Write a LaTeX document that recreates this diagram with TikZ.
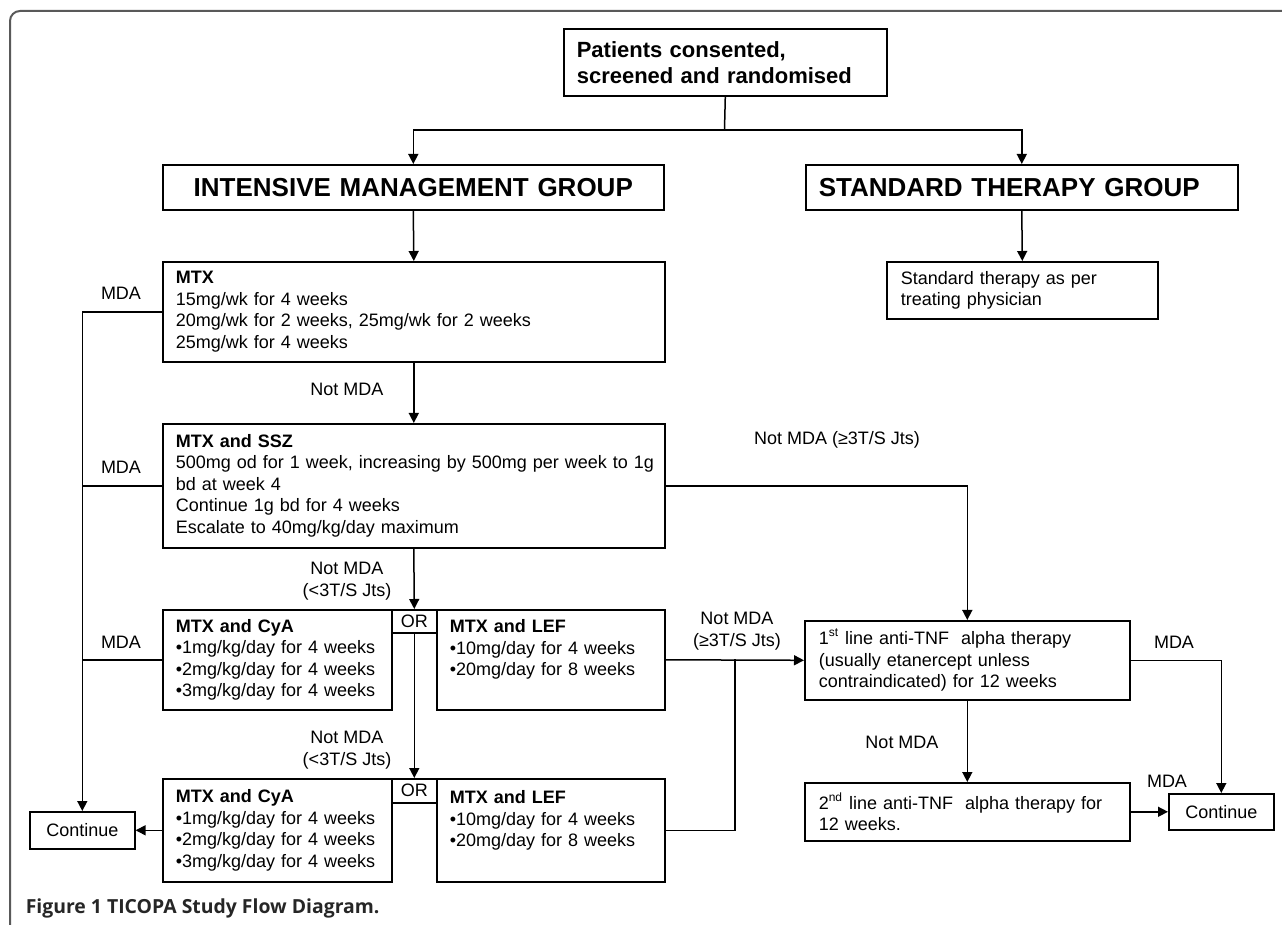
\documentclass[tikz,border=0pt]{standalone}
\usepackage{fontspec}
\setmainfont{Liberation Sans}
\newfontfamily\capfont{Open Sans}
\usetikzlibrary{arrows.meta}

\begin{document}
\begin{tikzpicture}[x=0.5pt, y=-0.5pt, line width=0.75pt,
  box/.style={draw, line width=0.8pt, anchor=north west, align=left, inner xsep=6.5pt, inner ysep=0pt, font=\fontsize{9}{10.75}\selectfont},
  orbox/.style={draw, line width=0.8pt, anchor=north west, minimum width=22.5pt, minimum height=11.5pt, inner sep=0pt, font=\fontsize{9}{10.75}\selectfont},
  endbox/.style={draw, line width=0.8pt, anchor=north west, minimum width=52.5pt, minimum height=18.5pt, inner sep=0pt, font=\fontsize{9}{10.75}\selectfont},
  lbl/.style={align=center, inner sep=0pt, font=\fontsize{9}{10.75}\selectfont},
  arr/.style={-{Triangle[length=5pt,width=5pt]}}]

  \useasboundingbox (0,0) rectangle (1282,925);

  % Draw the frame round the figure
  \draw[black!65, line width=1pt, rounded corners=5pt] (1300,11) -- (10,11) -- (10,934) -- (40,934);

  % Top box and the split into the two arms
  \node[box, font=\fontsize{11}{13}\selectfont\bfseries, text width=148.5pt, minimum height=33.5pt] (start) at (563,28) {Patients consented,\\screened and randomised};
  \coordinate (split) at (724.5,130);

  \node[box, align=center, font=\fontsize{13}{15}\selectfont\bfseries, text width=237.5pt, minimum height=22.5pt] (img) at (162,164) {INTENSIVE MANAGEMENT GROUP};
  \node[box, font=\fontsize{13}{15}\selectfont\bfseries, text width=203pt, minimum height=22.5pt] (stg) at (805,164) {STANDARD THERAPY GROUP};
  \node[box, inner xsep=7pt, text width=121.5pt, minimum height=28.5pt] (std) at (886,261) {Standard therapy as per\\treating physician};

  % Intensive arm, one step after the other
  \node[box, text width=238pt, minimum height=50pt] (mtx) at (162,261) {\textbf{MTX}\\15mg/wk for 4 weeks\\20mg/wk for 2 weeks, 25mg/wk for 2 weeks\\25mg/wk for 4 weeks};
  \node[box, text width=238pt, minimum height=62pt] (ssz) at (162,423) {\textbf{MTX and SSZ}\\\mbox{500mg od for 1 week, increasing by 500mg per week to 1g}\\bd at week 4\\Continue 1g bd for 4 weeks\\Escalate to 40mg/kg/day maximum};

  \node[box, text width=101.5pt, minimum height=50pt] (cya1) at (162,609) {\textbf{MTX and CyA}\\•1mg/kg/day for 4 weeks\\•2mg/kg/day for 4 weeks\\•3mg/kg/day for 4 weeks};
  \node[orbox] (or1) at (391,609) {OR};
  \node[box, text width=101pt, text height=11.5pt, text depth=38.5pt] (lef1) at (436,609) {\textbf{MTX and LEF}\\•10mg/day for 4 weeks\\•20mg/day for 8 weeks};

  \node[box, text width=101.5pt, minimum height=51.5pt] (cya2) at (162,778) {\textbf{MTX and CyA}\\•1mg/kg/day for 4 weeks\\•2mg/kg/day for 4 weeks\\•3mg/kg/day for 4 weeks};
  \node[orbox, minimum height=12pt] (or2) at (391,778) {OR};
  \node[box, text width=101pt, text height=12.5pt, text depth=39pt] (lef2) at (436,778) {\textbf{MTX and LEF}\\•10mg/day for 4 weeks\\•20mg/day for 8 weeks};

  \node[endbox] (contL) at (29,811) {Continue};

  % Anti-TNF steps
  \node[box, inner xsep=7pt, text width=148.5pt, minimum height=39.5pt] (tnf1) at (804,620) {1\textsuperscript{st} line anti-TNF\ \ alpha therapy\\(usually etanercept unless\\contraindicated) for 12 weeks};
  \node[box, inner xsep=7pt, text width=148.5pt, minimum height=29pt] (tnf2) at (804,782) {2\textsuperscript{nd} line anti-TNF\ \ alpha therapy for\\12 weeks.};
  \node[endbox, minimum height=18pt] (contR) at (1168,793) {Continue};
  \coordinate (jn) at (735,659.5);

  % Connectors
  \draw (start.south) -- (split);
  \draw[arr] (split) -| (img.north);
  \draw[arr] (split) -| (stg.north);
  \draw[arr] (img.south) -- (mtx.north);
  \draw[arr] (stg.south) -- (std.north);
  \draw[arr] (mtx.south) -- (ssz.north);
  \draw[arr] (ssz.south) -- (or1.north);
  \draw[arr] (or1.south) -- (or2.north);
  \draw[arr] (mtx.west) -| (contL.north);
  \draw (ssz.west) -- (ssz.west -| contL.north);
  \draw (cya1.west) -- (cya1.west -| contL.north);
  \draw[arr] (cya2.west) -- (contL.east);
  \draw[arr] (ssz.east) -| (tnf1.north);
  \draw[arr] (lef1.east) -- (tnf1.west);
  \draw (lef2.east) -| (jn);
  \draw[arr] (tnf1.east) -| (contR.north);
  \draw[arr] (tnf1.south) -- (tnf2.north);
  \draw[arr] (tnf2.east) -- (contR.west);

  % Labels on the connectors
  \node[lbl] (mda1) at (121,293) {MDA};
  \node[lbl] (mda2) at (121,467) {MDA};
  \node[lbl] (mda3) at (121,642) {MDA};
  \node[lbl] (nm1) at (347,389) {Not MDA};
  \node[lbl] (nm2) at (347,581) {Not MDA\\(<3T/S Jts)};
  \node[lbl] (nm3) at (347,750) {Not MDA\\(<3T/S Jts)};
  \node[lbl] (nm4) at (837,440) {Not MDA (≥3T/S Jts)};
  \node[lbl] (nm5) at (737,631) {Not MDA\\(≥3T/S Jts)};
  \node[lbl] (mda4) at (1174,642) {MDA};
  \node[lbl] (nm6) at (902,742) {Not MDA};
  \node[lbl] (mda5) at (1167,781) {MDA};

  % Caption
  \node[anchor=west, inner sep=0pt, font=\capfont\fontsize{9.7}{11.5}\selectfont\bfseries, text=black!85] (cap) at (25,908) {Figure 1 TICOPA Study Flow Diagram.};

\end{tikzpicture}
\end{document}
